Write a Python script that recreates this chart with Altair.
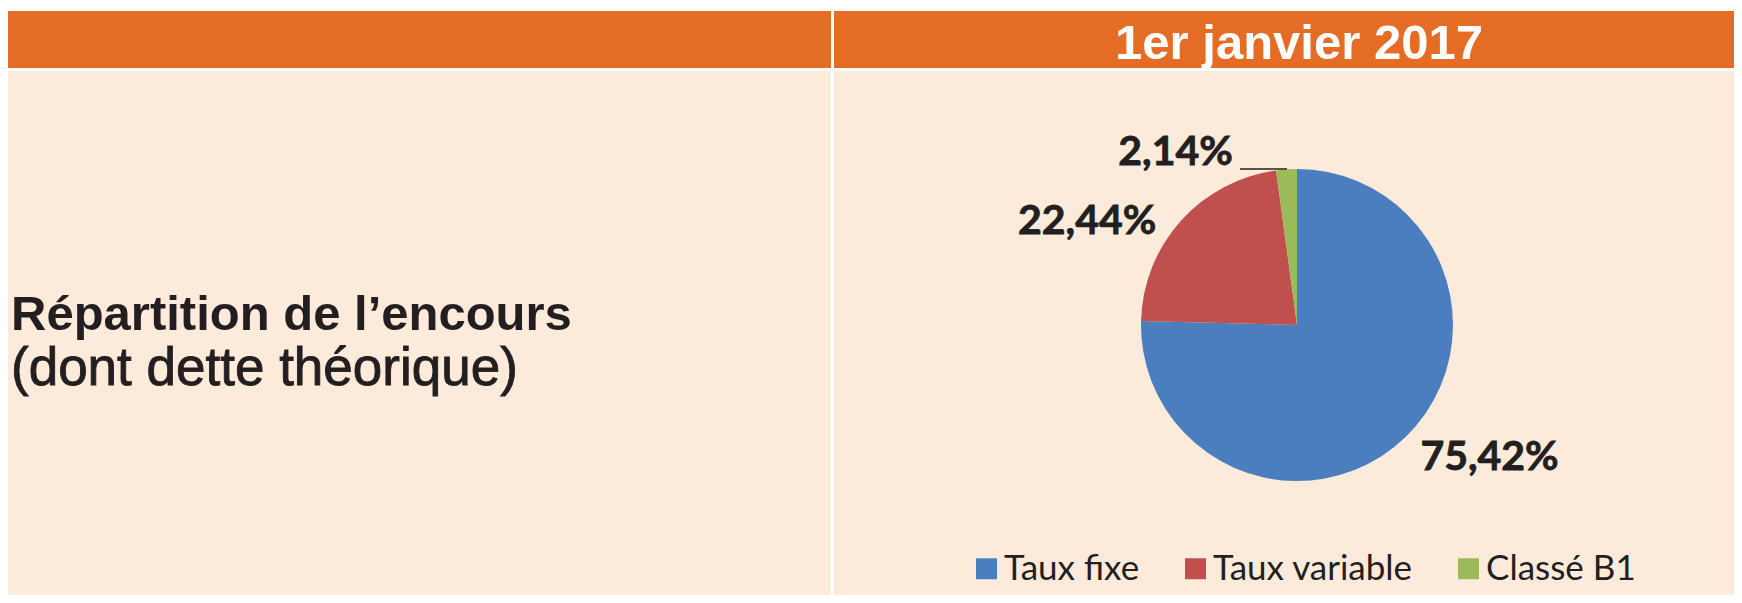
import altair as alt
import pandas as pd

# ---- data ----
categories = ["Taux fixe", "Taux variable", "Classé B1"]
values = [75.42, 22.44, 2.14]
labels = ["75,42%", "22,44%", "2,14%"]
colors = ["#4A7EBF", "#C0504D", "#9BBB59"]

title_text = ["1er janvier 2017"]
left_line1 = ["Répartition de l’encours"]
left_line2 = ["(dont dette théorique)"]

# ---- layout / style ----
W, H = 1726, 587
ORANGE = "#E46C24"
PEACH = "#FCEADA"
DARK = "#231F20"
CX, CY, R = 1289, 317, 156
label_offsets = [(53, 2), (-61, 43), (-108, 40)]

df = pd.DataFrame({"cat": categories, "value": values, "label": labels,
                   "idx": list(range(len(categories)))})
one = pd.DataFrame({"k": [0]})


def rect(x1, x2, y1, y2, color):
    return alt.Chart(one).mark_rect(color=color).encode(
        x=alt.value(x1), x2=alt.value(x2), y=alt.value(y1), y2=alt.value(y2))


bands = [
    rect(0, 823, 3, 60, ORANGE),
    rect(826, W, 3, 60, ORANGE),
    rect(0, 823, 63, H, PEACH),
    rect(826, W, 63, H, PEACH),
]

title = alt.Chart(pd.DataFrame({"t": title_text})).mark_text(
    font="Liberation Sans", fontWeight="bold", fontSize=49, color="white",
    align="center", baseline="alphabetic").encode(
    text="t:N", x=alt.value(1291), y=alt.value(51))

left1 = alt.Chart(pd.DataFrame({"t": left_line1})).mark_text(
    font="Liberation Sans", fontWeight="bold", fontSize=49, color=DARK,
    align="left", baseline="alphabetic").encode(
    text="t:N", x=alt.value(3), y=alt.value(322))

left2 = alt.Chart(pd.DataFrame({"t": left_line2})).mark_text(
    font="Liberation Sans", fontSize=53, color=DARK, stroke=DARK, strokeWidth=0.9,
    align="left", baseline="alphabetic").encode(
    text="t:N", x=alt.value(3), y=alt.value(377))

pie = alt.Chart(df).mark_arc(radius=R).encode(
    theta=alt.Theta("value:Q", stack=True),
    order=alt.Order("idx:Q"),
    color=alt.Color("cat:N", scale=alt.Scale(domain=categories, range=colors),
                    legend=alt.Legend(orient="none", legendX=961, legendY=543,
                                      direction="horizontal", columns=3, title=None,
                                      symbolType="square", symbolSize=441,
                                      symbolStrokeWidth=0, symbolOpacity=1,
                                      labelFont="Lato", labelFontSize=35,
                                      labelColor=DARK, labelOffset=0,
                                      labelLimit=500, columnPadding=38, padding=0)),
    x=alt.value(CX), y=alt.value(CY),
)

text_layers = []
for i, (dx, dy) in enumerate(label_offsets):
    t = alt.Chart(df).transform_window(
        cum="sum(value)", sort=[alt.SortField("idx")], frame=[None, 0]
    ).transform_joinaggregate(total="sum(value)").transform_calculate(
        mid="(datum.cum - datum.value / 2) / datum.total"
    ).transform_filter(alt.datum.idx == i).mark_text(
        radius=200, dx=dx, dy=dy, font="Lato", fontWeight="bold", fontSize=41,
        color=DARK, stroke=DARK, strokeWidth=0.8,
        align="center", baseline="alphabetic").encode(
        theta=alt.Theta("mid:Q", scale=alt.Scale(domain=[0, 1])),
        text="label:N", x=alt.value(CX), y=alt.value(CY))
    text_layers.append(t)

leader = alt.Chart(one).mark_rule(color=DARK, strokeWidth=1.5).encode(
    x=alt.value(1232), x2=alt.value(1279), y=alt.value(161))

chart = alt.layer(*bands, title, left1, left2, pie, *text_layers, leader).resolve_scale(
    theta="independent"
).properties(
    width=W, height=H, padding=0, background="white",
    autosize=alt.AutoSizeParams(type="none"),
).configure_view(stroke=None)

chart.save("out.html", embed_options={"renderer": "svg", "actions": False})
